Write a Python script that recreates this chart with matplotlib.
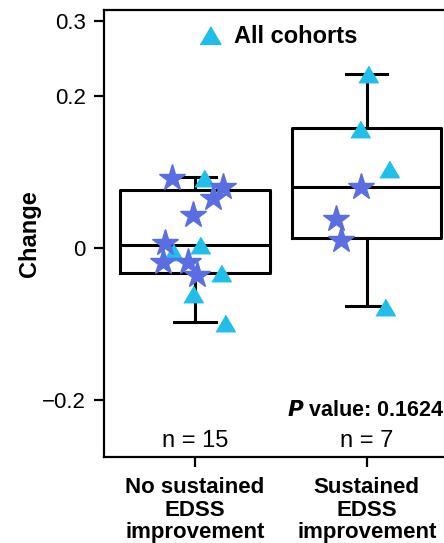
import matplotlib
matplotlib.use("Agg")
import matplotlib.pyplot as plt
from matplotlib.lines import Line2D

plt.rcParams['font.family'] = ['Liberation Sans', 'DejaVu Sans']

# groups
groups = ['No sustained\nEDSS\nimprovement', 'Sustained\nEDSS\nimprovement']
n_labels = ['n = 15', 'n = 7']

# box summaries
q1 = [-0.033, 0.013]
med = [0.004, 0.081]
q3 = [0.077, 0.159]
whislo = [-0.098, -0.077]
whishi = [0.094, 0.230]

# individual points: star = one cohort, triangle = all cohorts
g1_star_dx = [-0.135, 0.165, 0.106, -0.010, -0.174, -0.184, -0.039, 0.010]
g1_star_y = [0.092, 0.081, 0.066, 0.044, 0.006, -0.018, -0.018, -0.036]
g1_tri_dx = [0.052, 0.029, -0.126, 0.149, -0.013, 0.174]
g1_tri_y = [0.092, 0.004, -0.005, -0.033, -0.060, -0.099]

g2_star_dx = [-0.031, -0.176, -0.151]
g2_star_y = [0.081, 0.038, 0.011]
g2_tri_dx = [0.008, -0.037, 0.130, 0.105]
g2_tri_y = [0.229, 0.157, 0.104, -0.078]

p_value = 0.1624

star_col = '#5B6EE1'
tri_col = '#1FBFEA'
tri = [(-1, -0.85), (1, -0.85), (0, 0.85)]

fig = plt.figure(figsize=(4.44, 5.43), dpi=100)
ax = fig.add_axes([0.234, 0.158, 0.797, 0.824])

stats = []
for i in range(2):
    stats.append({'q1': q1[i], 'med': med[i], 'q3': q3[i],
                  'whislo': whislo[i], 'whishi': whishi[i], 'fliers': []})
lw = 2.2
ax.bxp(stats, positions=[1, 2], widths=0.87, showfliers=False,
       boxprops=dict(color='black', linewidth=lw),
       medianprops=dict(color='black', linewidth=lw),
       whiskerprops=dict(color='black', linewidth=lw),
       capprops=dict(color='black', linewidth=lw),
       capwidths=0.24, zorder=1)

for pos, sdx, sy, tdx, ty in [(1, g1_star_dx, g1_star_y, g1_tri_dx, g1_tri_y),
                               (2, g2_star_dx, g2_star_y, g2_tri_dx, g2_tri_y)]:
    ax.plot([pos + d for d in tdx], ty, linestyle='none', marker=tri,
            markersize=14, color=tri_col, zorder=3)
    ax.plot([pos + d for d in sdx], sy, linestyle='none', marker='*',
            markersize=20, color=star_col, zorder=4)

ax.set_xlim(0.47, 2.53)
ax.set_ylim(-0.276, 0.3144)
ax.set_yticks([0.3, 0.2, 0, -0.2])
ax.set_yticklabels(['0.3', '0.2', '0', '\u22120.2'])
ax.set_xticks([1, 2])
ax.set_xticklabels(groups, fontweight='bold', fontsize=17, linespacing=1.12)
ax.tick_params(axis='both', length=7, width=1.6, labelsize=16)
ax.tick_params(axis='y', pad=6)
ax.tick_params(axis='x', pad=7)
for sp in ax.spines.values():
    sp.set_linewidth(1.6)

ax.set_ylabel('Change', fontweight='bold', fontsize=17, labelpad=1)

for i, t in enumerate(n_labels):
    ax.text(i + 1, -0.255, t, ha='center', va='center', fontsize=17)
ax.text(2.455, -0.214, r'$\bfit{P}$ value: %.4f' % p_value, ha='right', va='center',
        fontsize=15.5, fontweight='bold')

h = Line2D([], [], linestyle='none', marker=tri, markersize=15, color=tri_col)
ax.legend([h], ['All cohorts'], loc='upper center', bbox_to_anchor=(0.475, 1.0),
          frameon=False, prop={'weight': 'bold', 'size': 17},
          handletextpad=0.0, borderaxespad=0.25)

fig.savefig('out.png', dpi=100)
